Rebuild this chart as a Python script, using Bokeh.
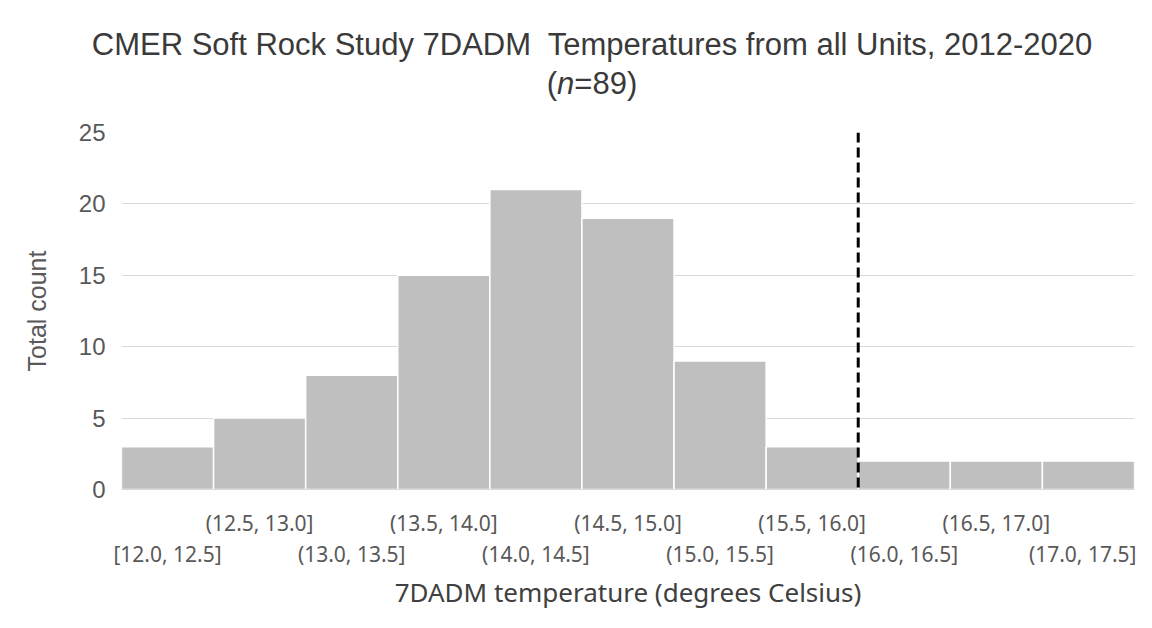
from bokeh.plotting import figure
from bokeh.models import LinearAxis, FixedTicker, Span, Div, ColumnDataSource
from bokeh.layouts import column
from bokeh.embed import file_html
from bokeh.resources import INLINE

# ---- data ----
bin_edges = [12.0, 12.5, 13.0, 13.5, 14.0, 14.5, 15.0, 15.5, 16.0, 16.5, 17.0, 17.5]
counts = [3, 5, 8, 15, 21, 19, 9, 3, 2, 2, 2]
bin_labels = ["[12.0, 12.5]", "(12.5, 13.0]", "(13.0, 13.5]", "(13.5, 14.0]",
              "(14.0, 14.5]", "(14.5, 15.0]", "(15.0, 15.5]", "(15.5, 16.0]",
              "(16.0, 16.5]", "(16.5, 17.0]", "(17.0, 17.5]"]
threshold = 16.0
y_ticks = [0, 5, 10, 15, 20, 25]
title_main = "CMER Soft Rock Study 7DADM  Temperatures from all Units, 2012-2020"
n_total = 89
x_title = "7DADM temperature (degrees Celsius)"
y_title = "Total count"

left = bin_edges[:-1]
right = bin_edges[1:]
centers = [(a + b) / 2 for a, b in zip(left, right)]
src = ColumnDataSource(dict(left=left, right=right, top=counts, bottom=[0] * len(counts)))

TXT = "#595959"
W = 1136
HEAD = 104

head = Div(
    text=(f'<div style="box-sizing:border-box; width:{W}px; padding-left:48px; padding-top:25px; '
          'text-align:center; white-space:pre; font-family:\'Liberation Sans\'; font-size:31px; '
          f'line-height:39px; color:#3a3a3a;">{title_main}<br>(<i>n</i>={n_total})</div>'),
    width=W, height=HEAD, margin=0)

p = figure(width=W, height=612 - HEAD, x_range=(bin_edges[0], bin_edges[-1]), y_range=(0, 25),
           output_backend="svg", toolbar_location=None, x_axis_location=None,
           min_border_left=121, min_border_right=2, min_border_top=132 - HEAD, min_border_bottom=123)
p.margin = 0
p.title = None
p.outline_line_color = None
p.background_fill_color = "white"
p.border_fill_color = "white"

p.quad(left="left", right="right", top="top", bottom="bottom", source=src,
       fill_color="#bfbfbf", line_color="white", line_width=1.5)

p.add_layout(Span(location=threshold, dimension="height", line_color="black",
                  line_width=3, line_dash="10 5"))

# y axis
ya = p.yaxis[0]
ya.ticker = FixedTicker(ticks=y_ticks)
ya.axis_line_color = None
ya.major_tick_line_color = None
ya.minor_tick_line_color = None
ya.major_tick_out = 0
ya.major_tick_in = 0
ya.minor_tick_out = 0
ya.major_label_text_font = "Liberation Sans"
ya.major_label_text_font_size = "24px"
ya.major_label_text_color = TXT
ya.major_label_standoff = 16
ya.axis_label = y_title
ya.axis_label_text_font = "Liberation Sans"
ya.axis_label_text_font_size = "25px"
ya.axis_label_text_font_style = "normal"
ya.axis_label_text_color = TXT
ya.axis_label_standoff = 25
p.xgrid.grid_line_color = None
p.ygrid.grid_line_color = "#d9d9d9"
p.ygrid.ticker = FixedTicker(ticks=y_ticks)

# staggered x labels via two axes
row1 = {centers[i]: bin_labels[i] for i in range(1, len(centers), 2)}
row2 = {centers[i]: bin_labels[i] for i in range(0, len(centers), 2)}

def make_axis(mapping, standoff):
    ax = LinearAxis(ticker=FixedTicker(ticks=list(mapping.keys())),
                    major_label_overrides=mapping)
    ax.major_tick_line_color = None
    ax.minor_tick_line_color = None
    ax.major_tick_out = 0
    ax.major_tick_in = 0
    ax.minor_tick_out = 0
    ax.major_label_text_font = "Noto Sans"
    ax.major_label_text_font_size = "21px"
    ax.major_label_text_color = TXT
    ax.major_label_standoff = standoff
    return ax

ax1 = make_axis(row1, 19)
ax1.axis_line_color = "#d9d9d9"
ax2 = make_axis(row2, 0)
ax2.axis_line_color = None
ax2.axis_label = x_title
ax2.axis_label_text_font = "Noto Sans"
ax2.axis_label_text_font_size = "26px"
ax2.axis_label_text_font_style = "normal"
ax2.axis_label_text_color = "#404040"
ax2.axis_label_standoff = 3
p.add_layout(ax1, "below")
p.add_layout(ax2, "below")

layout = column(head, p, spacing=0, margin=0)
open("out.html", "w").write(file_html(layout, INLINE))
